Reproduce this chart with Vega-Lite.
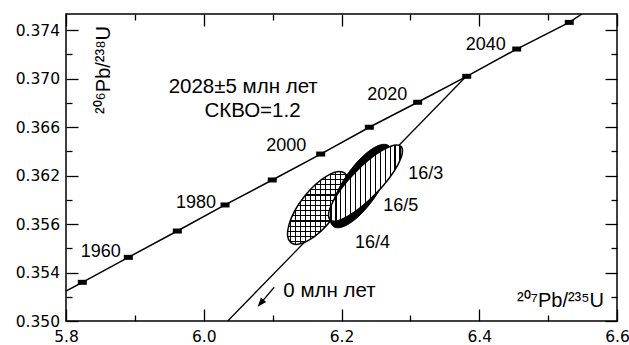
{
  "$schema": "https://vega.github.io/schema/vega-lite/v6.json",
  "width": 551,
  "height": 307,
  "autosize": {"type": "none"},
  "padding": {"left": 66, "top": 14, "right": 12, "bottom": 24},
  "background": "white",
  "config": {
    "view": {"stroke": "black", "strokeWidth": 1.5},
    "axis": {"domain": false, "grid": false, "tickColor": "black", "tickWidth": 1.3, "labelFont": "DejaVu Sans", "labelFontSize": 15.5, "labelColor": "black", "title": null, "labelFlush": false, "labelOverlap": false}
  },
  "resolve": {"axis": {"x": "independent", "y": "independent"}},
  "datasets": {
    "concordia": [
      {"x": 5.8, "y": 0.35247}, {"x": 5.8237, "y": 0.35319}, {"x": 5.8905, "y": 0.35525}, {"x": 5.9616, "y": 0.35742},
      {"x": 6.0309, "y": 0.35957}, {"x": 6.0995, "y": 0.36163}, {"x": 6.1698, "y": 0.36377}, {"x": 6.2404, "y": 0.36598},
      {"x": 6.3106, "y": 0.36804}, {"x": 6.3818, "y": 0.37018}, {"x": 6.4544, "y": 0.37243}, {"x": 6.5307, "y": 0.37463},
      {"x": 6.549, "y": 0.37532}
    ],
    "markers": [
      {"age": 1950, "x": 5.8237, "y": 0.35319}, {"age": 1960, "x": 5.8905, "y": 0.35525}, {"age": 1970, "x": 5.9616, "y": 0.35742},
      {"age": 1980, "x": 6.0309, "y": 0.35957}, {"age": 1990, "x": 6.0995, "y": 0.36163}, {"age": 2000, "x": 6.1698, "y": 0.36377},
      {"age": 2010, "x": 6.2404, "y": 0.36598}, {"age": 2020, "x": 6.3106, "y": 0.36804}, {"age": 2030, "x": 6.3818, "y": 0.37018},
      {"age": 2040, "x": 6.4544, "y": 0.37243}, {"age": 2050, "x": 6.5307, "y": 0.37463}
    ],
    "ageLabels": [
      {"text": "1960", "x": 5.8794, "y": 0.35525}, {"text": "1980", "x": 6.0178, "y": 0.35934},
      {"text": "2000", "x": 6.1488, "y": 0.36402}, {"text": "2020", "x": 6.2955, "y": 0.36823},
      {"text": "2040", "x": 6.4384, "y": 0.37235}
    ],
    "discordia": [{"x": 6.03478, "y": 0.35}, {"x": 6.37974, "y": 0.3701}],
    "arrow": [{"x": 6.1023, "y": 0.35278, "x2": 6.08457, "y2": 0.3516}],
    "arrowTip": [{"x": 6.07833, "y": 0.35118}],
    "e164": [{"sample": "16/4", "x": 6.16588, "y": 0.35932}],
    "e165": [{"sample": "16/5", "x": 6.22831, "y": 0.36113}],
    "e163": [{"sample": "16/3", "x": 6.23485, "y": 0.36138}],
    "bigText": [{"text": "2028±5 млн лет", "x": 6.05727, "y": 0.36878}, {"text": "СКВО=1.2", "x": 6.07078, "y": 0.36685}],
    "sampleLabels": [{"text": "16/3", "x": 6.29695, "y": 0.36175}, {"text": "16/5", "x": 6.26068, "y": 0.3591}, {"text": "16/4", "x": 6.2196, "y": 0.35605}],
    "zeroText": [{"text": "0 млн лет", "x": 6.1155, "y": 0.352}],
    "xTitle": [{"text": "²⁰⁷Pb/²³⁵U", "x": 6.58113, "y": 0.35113}],
    "yTitle": [{"text": "²⁰⁶Pb/²³⁸U", "x": 5.86388, "y": 0.3707}]
  },
  "layer": [
    {
      "data": {"name": "concordia"},
      "mark": {"type": "line", "color": "black", "strokeWidth": 1.5, "clip": true},
      "encoding": {
        "x": {"field": "x", "type": "quantitative", "scale": {"domain": [5.8, 6.6], "nice": false, "zero": false},
              "axis": {"orient": "bottom", "values": [5.8, 6.0, 6.2, 6.4, 6.6], "format": ".1f", "tickSize": -12, "labelPadding": 20}},
        "y": {"field": "y", "type": "quantitative", "scale": {"domain": [0.35, 0.37532], "nice": false, "zero": false},
              "axis": {"orient": "left", "values": [0.35, 0.354, 0.358, 0.362, 0.366, 0.37, 0.374], "tickSize": -12, "labelPadding": 18.5,
                       "labelExpr": "abs(datum.value - 0.358) < 0.0001 ? '0.356' : format(datum.value, '.3f')"}}
      }
    },
    {
      "data": {"name": "markers"},
      "mark": {"type": "point", "shape": "M-4.5,-2.5L4.5,-2.5L4.5,2.5L-4.5,2.5Z", "size": 4, "filled": true, "fill": "black", "strokeWidth": 0, "opacity": 1},
      "encoding": {
        "x": {"field": "x", "type": "quantitative", "axis": {"orient": "bottom", "values": [5.9, 6.1, 6.3, 6.5], "labels": false, "tickSize": -6}},
        "y": {"field": "y", "type": "quantitative", "axis": {"orient": "left", "values": [0.352, 0.356, 0.36, 0.364, 0.368, 0.372], "labels": false, "tickSize": -6}}
      }
    },
    {
      "data": {"name": "discordia"},
      "mark": {"type": "line", "color": "black", "strokeWidth": 1.3},
      "encoding": {
        "x": {"field": "x", "type": "quantitative", "axis": {"orient": "top", "values": [5.8, 6.0, 6.2, 6.4, 6.6], "labels": false, "tickSize": -12}},
        "y": {"field": "y", "type": "quantitative", "axis": {"orient": "right", "values": [0.35, 0.354, 0.358, 0.362, 0.366, 0.37, 0.374], "labels": false, "tickSize": -12}}
      }
    },
    {
      "data": {"name": "arrow"},
      "mark": {"type": "rule", "color": "black", "strokeWidth": 1.3},
      "encoding": {
        "x": {"field": "x", "type": "quantitative", "axis": {"orient": "top", "values": [5.9, 6.1, 6.3, 6.5], "labels": false, "tickSize": -6}},
        "y": {"field": "y", "type": "quantitative", "axis": {"orient": "right", "values": [0.352, 0.356, 0.36, 0.364, 0.368, 0.372], "labels": false, "tickSize": -6}},
        "x2": {"field": "x2"},
        "y2": {"field": "y2"}
      }
    },
    {
      "data": {"name": "arrowTip"},
      "mark": {"type": "point", "shape": "M0,0L8.5,-4.6L3.2,-9.1Z", "size": 4, "filled": true, "fill": "black", "strokeWidth": 0, "opacity": 1},
      "encoding": {
        "x": {"field": "x", "type": "quantitative", "axis": null},
        "y": {"field": "y", "type": "quantitative", "axis": null}
      }
    },
    {
      "data": {"name": "e164"},
      "mark": {"type": "point", "shape": "M-27.09,34.67A44,18,-52,0,1,27.09,-34.67A44,18,-52,0,1,-27.09,34.67Z", "size": 4, "filled": true, "strokeWidth": 0, "opacity": 1,
        "fill": {"gradient": "linear", "x1": 0, "y1": 0, "x2": 1, "y2": 0, "stops": [
          {"offset": 0, "color": "white"},
          {"offset": 0.0327, "color": "white"}, {"offset": 0.0327, "color": "black"}, {"offset": 0.0507, "color": "black"}, {"offset": 0.0507, "color": "white"},
          {"offset": 0.116, "color": "white"}, {"offset": 0.116, "color": "black"}, {"offset": 0.134, "color": "black"}, {"offset": 0.134, "color": "white"},
          {"offset": 0.1993, "color": "white"}, {"offset": 0.1993, "color": "black"}, {"offset": 0.2173, "color": "black"}, {"offset": 0.2173, "color": "white"},
          {"offset": 0.2827, "color": "white"}, {"offset": 0.2827, "color": "black"}, {"offset": 0.3007, "color": "black"}, {"offset": 0.3007, "color": "white"},
          {"offset": 0.366, "color": "white"}, {"offset": 0.366, "color": "black"}, {"offset": 0.384, "color": "black"}, {"offset": 0.384, "color": "white"},
          {"offset": 0.4493, "color": "white"}, {"offset": 0.4493, "color": "black"}, {"offset": 0.4673, "color": "black"}, {"offset": 0.4673, "color": "white"},
          {"offset": 0.5327, "color": "white"}, {"offset": 0.5327, "color": "black"}, {"offset": 0.5507, "color": "black"}, {"offset": 0.5507, "color": "white"},
          {"offset": 0.616, "color": "white"}, {"offset": 0.616, "color": "black"}, {"offset": 0.634, "color": "black"}, {"offset": 0.634, "color": "white"},
          {"offset": 0.6993, "color": "white"}, {"offset": 0.6993, "color": "black"}, {"offset": 0.7173, "color": "black"}, {"offset": 0.7173, "color": "white"},
          {"offset": 0.7827, "color": "white"}, {"offset": 0.7827, "color": "black"}, {"offset": 0.8007, "color": "black"}, {"offset": 0.8007, "color": "white"},
          {"offset": 0.866, "color": "white"}, {"offset": 0.866, "color": "black"}, {"offset": 0.884, "color": "black"}, {"offset": 0.884, "color": "white"},
          {"offset": 0.9493, "color": "white"}, {"offset": 0.9493, "color": "black"}, {"offset": 0.9673, "color": "black"}, {"offset": 0.9673, "color": "white"},
          {"offset": 1, "color": "white"}
        ]}},
      "encoding": {
        "x": {"field": "x", "type": "quantitative", "axis": null},
        "y": {"field": "y", "type": "quantitative", "axis": null}
      }
    },
    {
      "data": {"name": "e164"},
      "mark": {"type": "point", "shape": "M-27.09,34.67A44,18,-52,0,1,27.09,-34.67A44,18,-52,0,1,-27.09,34.67Z", "size": 4, "filled": true, "stroke": "black", "strokeWidth": 1.5, "opacity": 1,
        "fill": {"gradient": "linear", "x1": 0, "y1": 0, "x2": 0, "y2": 1, "stops": [
          {"offset": 0, "color": "rgba(255,255,255,0)"},
          {"offset": 0.0281, "color": "rgba(255,255,255,0)"}, {"offset": 0.0281, "color": "black"}, {"offset": 0.0433, "color": "black"}, {"offset": 0.0433, "color": "rgba(255,255,255,0)"},
          {"offset": 0.0995, "color": "rgba(255,255,255,0)"}, {"offset": 0.0995, "color": "black"}, {"offset": 0.1147, "color": "black"}, {"offset": 0.1147, "color": "rgba(255,255,255,0)"},
          {"offset": 0.171, "color": "rgba(255,255,255,0)"}, {"offset": 0.171, "color": "black"}, {"offset": 0.1862, "color": "black"}, {"offset": 0.1862, "color": "rgba(255,255,255,0)"},
          {"offset": 0.2424, "color": "rgba(255,255,255,0)"}, {"offset": 0.2424, "color": "black"}, {"offset": 0.2576, "color": "black"}, {"offset": 0.2576, "color": "rgba(255,255,255,0)"},
          {"offset": 0.3138, "color": "rgba(255,255,255,0)"}, {"offset": 0.3138, "color": "black"}, {"offset": 0.329, "color": "black"}, {"offset": 0.329, "color": "rgba(255,255,255,0)"},
          {"offset": 0.3853, "color": "rgba(255,255,255,0)"}, {"offset": 0.3853, "color": "black"}, {"offset": 0.4005, "color": "black"}, {"offset": 0.4005, "color": "rgba(255,255,255,0)"},
          {"offset": 0.4567, "color": "rgba(255,255,255,0)"}, {"offset": 0.4567, "color": "black"}, {"offset": 0.4719, "color": "black"}, {"offset": 0.4719, "color": "rgba(255,255,255,0)"},
          {"offset": 0.5281, "color": "rgba(255,255,255,0)"}, {"offset": 0.5281, "color": "black"}, {"offset": 0.5433, "color": "black"}, {"offset": 0.5433, "color": "rgba(255,255,255,0)"},
          {"offset": 0.5995, "color": "rgba(255,255,255,0)"}, {"offset": 0.5995, "color": "black"}, {"offset": 0.6147, "color": "black"}, {"offset": 0.6147, "color": "rgba(255,255,255,0)"},
          {"offset": 0.671, "color": "rgba(255,255,255,0)"}, {"offset": 0.671, "color": "black"}, {"offset": 0.6862, "color": "black"}, {"offset": 0.6862, "color": "rgba(255,255,255,0)"},
          {"offset": 0.7424, "color": "rgba(255,255,255,0)"}, {"offset": 0.7424, "color": "black"}, {"offset": 0.7576, "color": "black"}, {"offset": 0.7576, "color": "rgba(255,255,255,0)"},
          {"offset": 0.8138, "color": "rgba(255,255,255,0)"}, {"offset": 0.8138, "color": "black"}, {"offset": 0.829, "color": "black"}, {"offset": 0.829, "color": "rgba(255,255,255,0)"},
          {"offset": 0.8853, "color": "rgba(255,255,255,0)"}, {"offset": 0.8853, "color": "black"}, {"offset": 0.9005, "color": "black"}, {"offset": 0.9005, "color": "rgba(255,255,255,0)"},
          {"offset": 0.9567, "color": "rgba(255,255,255,0)"}, {"offset": 0.9567, "color": "black"}, {"offset": 0.9719, "color": "black"}, {"offset": 0.9719, "color": "rgba(255,255,255,0)"},
          {"offset": 1, "color": "rgba(255,255,255,0)"}
        ]}},
      "encoding": {
        "x": {"field": "x", "type": "quantitative", "axis": null},
        "y": {"field": "y", "type": "quantitative", "axis": null}
      }
    },
    {
      "data": {"name": "e165"},
      "mark": {"type": "point", "shape": "M-27.4,40.62A49,18,-56,0,1,27.4,-40.62A49,18,-56,0,1,-27.4,40.62Z", "size": 4, "filled": true, "fill": "black", "stroke": "black", "strokeWidth": 1, "opacity": 1},
      "encoding": {
        "x": {"field": "x", "type": "quantitative", "axis": null},
        "y": {"field": "y", "type": "quantitative", "axis": null}
      }
    },
    {
      "data": {"name": "e163"},
      "mark": {"type": "point", "shape": "M-35.43,36.68A51,15,-46,0,1,35.43,-36.68A51,15,-46,0,1,-35.43,36.68Z", "size": 4, "filled": true, "stroke": "black", "strokeWidth": 1.5, "opacity": 1,
        "fill": {"gradient": "linear", "x1": 0, "y1": 0, "x2": 1, "y2": 0, "stops": [
          {"offset": 0, "color": "white"},
          {"offset": 0.0253, "color": "white"}, {"offset": 0.0253, "color": "black"}, {"offset": 0.0413, "color": "black"}, {"offset": 0.0413, "color": "white"},
          {"offset": 0.092, "color": "white"}, {"offset": 0.092, "color": "black"}, {"offset": 0.108, "color": "black"}, {"offset": 0.108, "color": "white"},
          {"offset": 0.1587, "color": "white"}, {"offset": 0.1587, "color": "black"}, {"offset": 0.1747, "color": "black"}, {"offset": 0.1747, "color": "white"},
          {"offset": 0.2253, "color": "white"}, {"offset": 0.2253, "color": "black"}, {"offset": 0.2413, "color": "black"}, {"offset": 0.2413, "color": "white"},
          {"offset": 0.292, "color": "white"}, {"offset": 0.292, "color": "black"}, {"offset": 0.308, "color": "black"}, {"offset": 0.308, "color": "white"},
          {"offset": 0.3587, "color": "white"}, {"offset": 0.3587, "color": "black"}, {"offset": 0.3747, "color": "black"}, {"offset": 0.3747, "color": "white"},
          {"offset": 0.4253, "color": "white"}, {"offset": 0.4253, "color": "black"}, {"offset": 0.4413, "color": "black"}, {"offset": 0.4413, "color": "white"},
          {"offset": 0.492, "color": "white"}, {"offset": 0.492, "color": "black"}, {"offset": 0.508, "color": "black"}, {"offset": 0.508, "color": "white"},
          {"offset": 0.5587, "color": "white"}, {"offset": 0.5587, "color": "black"}, {"offset": 0.5747, "color": "black"}, {"offset": 0.5747, "color": "white"},
          {"offset": 0.6253, "color": "white"}, {"offset": 0.6253, "color": "black"}, {"offset": 0.6413, "color": "black"}, {"offset": 0.6413, "color": "white"},
          {"offset": 0.692, "color": "white"}, {"offset": 0.692, "color": "black"}, {"offset": 0.708, "color": "black"}, {"offset": 0.708, "color": "white"},
          {"offset": 0.7587, "color": "white"}, {"offset": 0.7587, "color": "black"}, {"offset": 0.7747, "color": "black"}, {"offset": 0.7747, "color": "white"},
          {"offset": 0.8253, "color": "white"}, {"offset": 0.8253, "color": "black"}, {"offset": 0.8413, "color": "black"}, {"offset": 0.8413, "color": "white"},
          {"offset": 0.892, "color": "white"}, {"offset": 0.892, "color": "black"}, {"offset": 0.908, "color": "black"}, {"offset": 0.908, "color": "white"},
          {"offset": 0.9587, "color": "white"}, {"offset": 0.9587, "color": "black"}, {"offset": 0.9747, "color": "black"}, {"offset": 0.9747, "color": "white"},
          {"offset": 1, "color": "white"}
        ]}},
      "encoding": {
        "x": {"field": "x", "type": "quantitative", "axis": null},
        "y": {"field": "y", "type": "quantitative", "axis": null}
      }
    },
    {
      "data": {"name": "ageLabels"},
      "mark": {"type": "text", "font": "Liberation Sans", "fontSize": 18, "align": "right", "baseline": "alphabetic", "color": "black"},
      "encoding": {
        "x": {"field": "x", "type": "quantitative", "axis": null},
        "y": {"field": "y", "type": "quantitative", "axis": null},
        "text": {"field": "text"}
      }
    },
    {
      "data": {"name": "bigText"},
      "mark": {"type": "text", "font": "Liberation Sans", "fontSize": 20.5, "align": "center", "baseline": "alphabetic", "color": "black"},
      "encoding": {
        "x": {"field": "x", "type": "quantitative", "axis": null},
        "y": {"field": "y", "type": "quantitative", "axis": null},
        "text": {"field": "text"}
      }
    },
    {
      "data": {"name": "sampleLabels"},
      "mark": {"type": "text", "font": "Liberation Sans", "fontSize": 18, "align": "left", "baseline": "alphabetic", "color": "black"},
      "encoding": {
        "x": {"field": "x", "type": "quantitative", "axis": null},
        "y": {"field": "y", "type": "quantitative", "axis": null},
        "text": {"field": "text"}
      }
    },
    {
      "data": {"name": "zeroText"},
      "mark": {"type": "text", "font": "Liberation Sans", "fontSize": 20.5, "align": "left", "baseline": "alphabetic", "color": "black"},
      "encoding": {
        "x": {"field": "x", "type": "quantitative", "axis": null},
        "y": {"field": "y", "type": "quantitative", "axis": null},
        "text": {"field": "text"}
      }
    },
    {
      "data": {"name": "xTitle"},
      "mark": {"type": "text", "font": "Liberation Sans", "fontSize": 20, "align": "right", "baseline": "alphabetic", "color": "black"},
      "encoding": {
        "x": {"field": "x", "type": "quantitative", "axis": null},
        "y": {"field": "y", "type": "quantitative", "axis": null},
        "text": {"field": "text"}
      }
    },
    {
      "data": {"name": "yTitle"},
      "mark": {"type": "text", "font": "Liberation Sans", "fontSize": 20, "align": "center", "baseline": "alphabetic", "angle": 270, "color": "black"},
      "encoding": {
        "x": {"field": "x", "type": "quantitative", "axis": null},
        "y": {"field": "y", "type": "quantitative", "axis": null},
        "text": {"field": "text"}
      }
    }
  ]
}
